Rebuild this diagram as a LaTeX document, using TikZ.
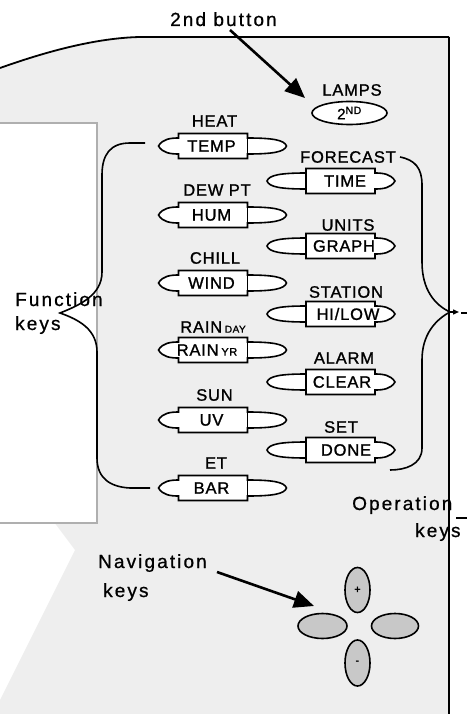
\documentclass[tikz,border=0pt]{standalone}
\usepackage{fontspec}
\setmainfont{Liberation Sans}
\newfontfamily\lblfont[LetterSpace=5,FakeBold=1.2]{Liberation Sans}
\newfontfamily\capfont[LetterSpace=11,FakeBold=0.8]{Liberation Sans}
\usetikzlibrary{arrows.meta,shapes.geometric}
\definecolor{devgray}{RGB}{238,238,238}
\definecolor{navgray}{RGB}{200,200,200}
\definecolor{scrgray}{RGB}{175,175,175}
\tikzset{
  lbl/.style={font={\lblfont\fontsize{16.5}{18}\selectfont}, inner sep=0pt},
  ktxt/.style={font={\lblfont\fontsize{16.5}{18}\selectfont}, inner sep=0pt},
  captxt/.style={font={\capfont\fontsize{19}{21}\selectfont}, inner sep=0pt, anchor=base west},
  keyline/.style={draw=black, line width=1.6pt, fill=white},
  bracestyle/.style={draw=black, line width=1.6pt},
  bigarrow/.style={line width=2.6pt, -{Triangle[length=20pt,width=17pt]}},
  navkey/.style={draw=black, line width=1.6pt, fill=navgray, ellipse, inner sep=0pt},
  fkey/.pic={
    \path[keyline] (-64,0) .. controls (-60,-7) and (-52,-8) .. (-44,-8) -- (-44,-12.5) -- (25,-12.5) -- (25,-8)
      .. controls (50,-8) and (62,-6) .. (64,0) .. controls (62,6) and (50,8) .. (25,8) -- (25,12.5) -- (-44,12.5) -- (-44,8)
      .. controls (-52,8) and (-60,7) .. (-64,0) -- cycle;
    \draw[line width=1.6pt] (25,-12.5) -- (25,12.5);
  }
}
\begin{document}
\begin{tikzpicture}[x=1pt,y=-1pt]
\useasboundingbox (0,0) rectangle (467,714);
% device body
\fill[devgray] (0,68) .. controls (45,52) and (95,38) .. (140,37) -- (449,37) -- (449,714) -- (0,714) -- (0,700)
  -- (25,650) -- (50,600) -- (75,550) -- (45,510) -- (0,510) -- cycle;
\draw[line width=1.8pt] (0,68) .. controls (45,52) and (95,38) .. (140,37) -- (449,37);
\draw[line width=2pt] (449,37) -- (449,714);
% screen
\draw[draw=scrgray, line width=1.5pt, fill=white] (-5,123) rectangle (97,523);

% function keys (left column)
\pic at (222.5,146) {fkey};
\pic at (222.5,215) {fkey};
\pic at (222.5,283) {fkey};
\pic at (222.5,350) {fkey};
\pic at (222.5,420) {fkey};
\pic at (222.5,488) {fkey};
\node[ktxt] (ktemp) at (211.5,146) {TEMP};
\node[ktxt] (khum)  at (211.5,215) {HUM};
\node[ktxt] (kwind) at (211.5,283) {WIND};
\node[ktxt] (krain) at (207,350) {RAIN\,{\fontsize{11}{11}\selectfont YR}};
\node[ktxt] (kuv)   at (211.5,420) {UV};
\node[ktxt] (kbar)  at (211.5,488) {BAR};
\node[lbl] (lheat)  at (214.5,121) {HEAT};
\node[lbl] (ldew)   at (217,190) {DEW PT};
\node[lbl] (lchill) at (215,258) {CHILL};
\node[lbl] (lrain)  at (213,327) {RAIN\,{\fontsize{10}{10}\selectfont DAY}};
\node[lbl] (lsun)   at (214.5,395) {SUN};
\node[lbl] (let)    at (216,463) {ET};

% operation keys (right column)
\pic[xscale=-1] at (331,181) {fkey};
\pic[xscale=-1] at (331,246) {fkey};
\pic[xscale=-1] at (331,314) {fkey};
\pic[xscale=-1] at (331,382) {fkey};
\pic[xscale=-1] at (331,450) {fkey};
\node[ktxt] (ktime)  at (345,181) {TIME};
\node[ktxt] (kgraph) at (344,246) {GRAPH};
\node[ktxt] (khilo)  at (348,314) {HI/LOW};
\node[ktxt] (kclear) at (342,382) {CLEAR};
\node[ktxt] (kdone)  at (346,450) {DONE};
\node[lbl] (lfore)  at (348,157) {FORECAST};
\node[lbl] (lunits) at (348,225) {UNITS};
\node[lbl] (lstat)  at (346,292) {STATION};
\node[lbl] (lalarm) at (344,358) {ALARM};
\node[lbl] (lset)   at (341,427) {SET};

% lamps key
\node[lbl] (llamps) at (352,90) {LAMPS};
\node[keyline, ellipse, minimum width=75pt, minimum height=23pt, inner sep=0pt, font={\lblfont\fontsize{15}{15}\selectfont}] (klamps) at (349.5,113) {2\textsuperscript{ND}};

% braces
\draw[bracestyle] (145,143) -- (130,143) .. controls (110,143) and (102,155) .. (102,175) -- (102,272)
  .. controls (102,295) and (80,305) .. (60,313) .. controls (80,320) and (97,330) .. (97,352) -- (97,458)
  .. controls (97,478) and (110,487) .. (130,488) -- (150,488);
\draw[bracestyle] (400,157) .. controls (415,160) and (422,168) .. (422,185) -- (422,262)
  .. controls (422,290) and (435,305) .. (450,312) .. controls (435,320) and (422,335) .. (422,360) -- (422,448)
  .. controls (422,465) and (405,470) .. (390,470);
\coordinate (optip) at (450,312);
\coordinate (optipend) at (459,312);
\draw[line width=1.4pt, -{Triangle[length=6pt,width=5pt]}] (optip) -- (optipend);
\coordinate (opdash1) at (461,313);
\coordinate (opdash2) at (467,313);
\draw[line width=1.4pt] (opdash1) -- (opdash2);

% captions
\node[captxt] (fn1) at (15,306) {Function};
\node[captxt] (fn2) at (15,330) {keys};
\node[captxt] (op1) at (352,510) {Operation};
\node[captxt] (op2) at (415,537) {keys};
\coordinate (oplead1) at (456,518);
\coordinate (oplead2) at (467,518);
\draw[line width=1.4pt] (oplead1) -- (oplead2);
\node[captxt] (nav1) at (98,568) {Navigation};
\node[captxt] (nav2) at (103,597) {keys};
\node[captxt] (btn) at (170,26) {2nd button};

% navigation keys
\node[navkey, minimum width=25pt, minimum height=45pt, font={\fontsize{11}{11}\selectfont\bfseries}] (navup) at (357.5,590) {+};
\node[navkey, minimum width=49pt, minimum height=25pt] (navleft) at (322.5,626) {};
\node[navkey, minimum width=47pt, minimum height=25pt] (navright) at (395,626) {};
\node[navkey, minimum width=25pt, minimum height=46pt, font={\fontsize{11}{11}\selectfont\bfseries}] (navdown) at (357.5,663) {-};

% arrows
\coordinate (btnstart) at (230,30);
\coordinate (lampsarrow) at (305,98);
\draw[bigarrow] (btnstart) -- (lampsarrow);
\coordinate (navstart) at (217,572);
\coordinate (navarrow) at (314,606);
\draw[bigarrow] (navstart) -- (navarrow);
\end{tikzpicture}
\end{document}
